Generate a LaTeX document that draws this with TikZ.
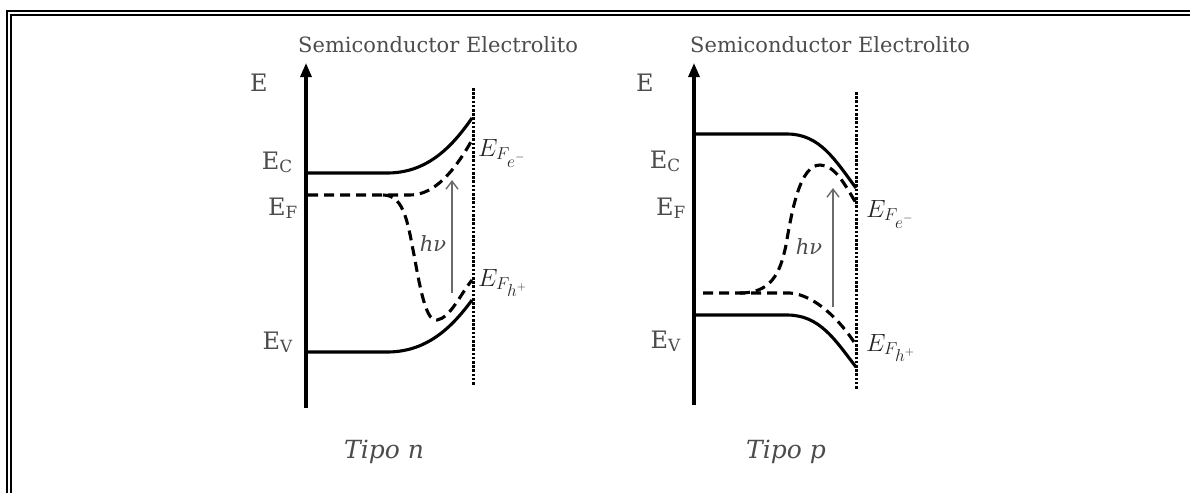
\documentclass[tikz,border=0pt]{standalone}
\usepackage{fontspec}
\setmainfont{DejaVu Serif}
\usetikzlibrary{arrows.meta}
\definecolor{labelgray}{HTML}{4C4C4C}
\definecolor{arrowgray}{HTML}{6A6A6A}

\begin{document}
\begin{tikzpicture}[x=1pt,y=-1pt,
    band/.style={line width=3.1pt},
    fermi/.style={line width=3.1pt,dash pattern=on 10pt off 6pt},
    surface/.style={line width=3pt,dash pattern=on 2.6pt off 1.6pt},
    axis/.style={line width=3.1pt,-{Triangle[length=14pt,width=11pt]}},
    photon/.style={arrowgray,line width=1.4pt,-{Straight Barb[length=8pt,width=12pt]}},
    lbl/.style={labelgray,font=\fontsize{24}{28}\selectfont,inner sep=0pt},
    head/.style={labelgray,font=\fontsize{21}{25}\selectfont,inner sep=0pt,anchor=base west},
    mlbl/.style={black!85,font=\fontsize{26}{30}\selectfont,inner sep=0pt,anchor=base west},
    frame/.style={line width=2.6pt}]
    \useasboundingbox (0,0) rectangle (1190,493);
    \draw[frame] (7,493) -- (7,11) -- (1190,11);
    \draw[frame] (11,493) -- (11,15) -- (1190,15);

    % tipo n
    \coordinate (axn) at (306,408);
    \coordinate (topn) at (306,63);
    \draw[axis] (axn) -- (topn);
    \draw[surface] (473,88) -- (473,385);
    \draw[band] (306,173) -- (387,173) .. controls (425,173) and (450,150) .. (472,118);
    \draw[band] (306,352) -- (387,352) .. controls (425,352) and (450,330) .. (472,300);
    \draw[fermi] (308,195) -- (410,195) .. controls (435,195) and (455,170) .. (472,140);
    \draw[fermi] (383,195) .. controls (405,195) and (408,225) .. (415,260)
        .. controls (422,300) and (428,322) .. (437,320)
        .. controls (450,318) and (460,295) .. (472,280);
    \coordinate (hvlown) at (452,293);
    \coordinate (hvupn) at (452,180);
    \draw[photon] (hvlown) -- (hvupn);
    \node[head] (semin) at (298,52) {Semiconductor\ Electrolito};
    \node[lbl,anchor=base west] (en) at (250,91) {E};
    \node[lbl,anchor=base east] (ecn) at (293,169) {E\textsubscript{C}};
    \node[lbl,anchor=base east] (efn) at (298,215) {E\textsubscript{F}};
    \node[lbl,anchor=base east] (evn) at (293,349) {E\textsubscript{V}};
    \node[lbl,font=\fontsize{21}{24}\selectfont] (hvn) at (433,244) {\textit{hν}};
    \node[mlbl] (efen) at (478,156) {$E_{F_{\scriptstyle e^-}}$};
    \node[mlbl] (efhn) at (478,286) {$E_{F_{\scriptstyle h^+}}$};
    \node[lbl,font=\fontsize{25}{30}\selectfont] (tipon) at (384,452) {\textit{Tipo n}};

    % tipo p
    \coordinate (axp) at (694,405);
    \coordinate (topp) at (694,63);
    \draw[axis] (axp) -- (topp);
    \draw[surface] (856,92) -- (856,390);
    \draw[band] (694,134) -- (787,134) .. controls (820,134) and (835,160) .. (856,188);
    \draw[band] (694,315) -- (787,315) .. controls (820,315) and (835,340) .. (856,367);
    \draw[fermi] (703,293) -- (790,293) .. controls (815,295) and (840,320) .. (856,345);
    \draw[fermi] (740,293) .. controls (770,293) and (780,275) .. (786,245)
        .. controls (792,210) and (800,165) .. (820,165)
        .. controls (835,165) and (845,185) .. (856,203);
    \coordinate (hvlowp) at (833,307);
    \coordinate (hvupp) at (833,188);
    \draw[photon] (hvlowp) -- (hvupp);
    \node[head] (semip) at (690,52) {Semiconductor\ Electrolito};
    \node[lbl,anchor=base west] (ep) at (636,91) {E};
    \node[lbl,anchor=base east] (ecp) at (681,168) {E\textsubscript{C}};
    \node[lbl,anchor=base east] (efp) at (686,215) {E\textsubscript{F}};
    \node[lbl,anchor=base east] (evp) at (681,348) {E\textsubscript{V}};
    \node[lbl,font=\fontsize{21}{24}\selectfont] (hvp) at (809,247) {\textit{hν}};
    \node[mlbl] (efep) at (866,217) {$E_{F_{\scriptstyle e^-}}$};
    \node[mlbl] (efhp) at (866,351) {$E_{F_{\scriptstyle h^+}}$};
    \node[lbl,font=\fontsize{25}{30}\selectfont] (tipop) at (786,452) {\textit{Tipo p}};
\end{tikzpicture}
\end{document}
